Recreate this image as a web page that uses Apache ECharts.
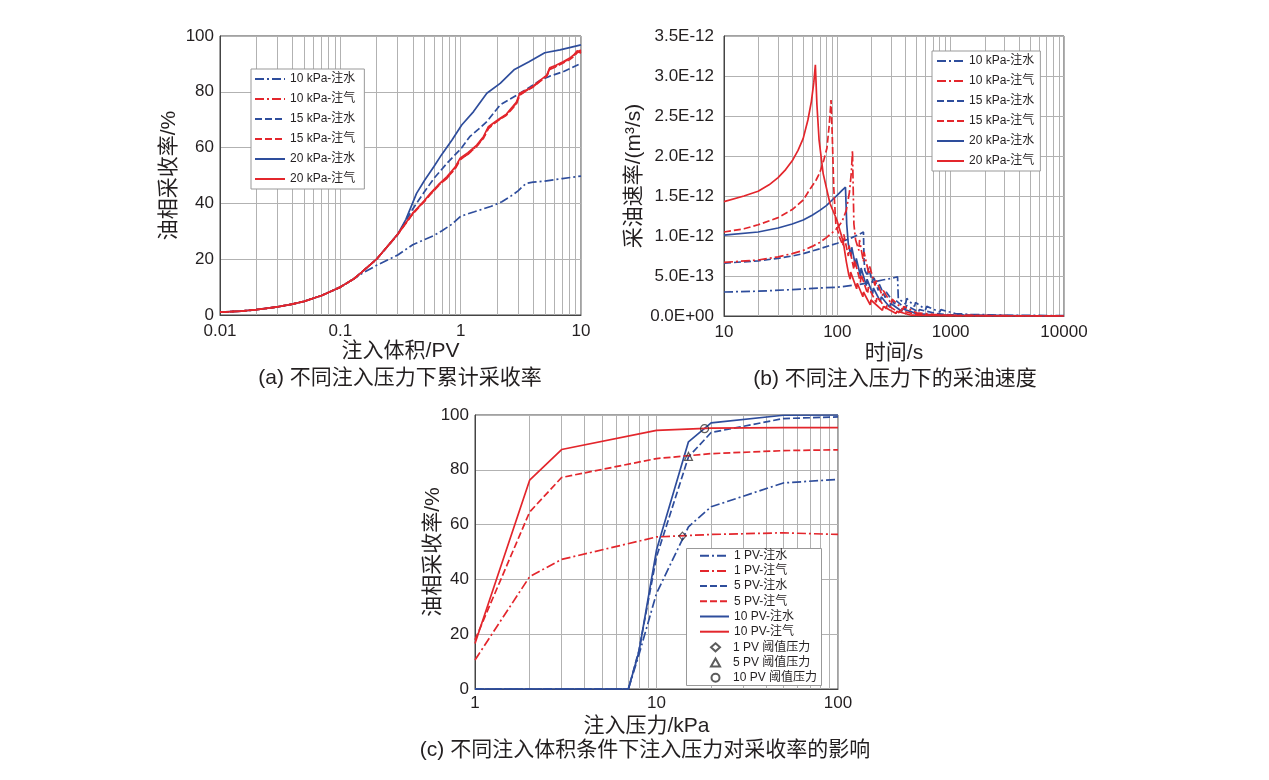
<!DOCTYPE html>
<html>
<head>
<meta charset="utf-8">
<title>注入压力与采收率</title>
<script src="https://cdn.jsdelivr.net/npm/echarts@6/dist/echarts.min.js"></script>
<style>
    html, body { margin: 0; padding: 0; background: #fff; }
    #main { width: 1269px; height: 780px; }
</style>
</head>
<body>
<div id="main"></div>
<script>
    // ---- (a) 累计采收率 vs 注入体积 (PV, %) ----
    var aStart = [[0.01, 1.0], [0.015, 1.4], [0.02, 1.9], [0.03, 2.9], [0.04, 3.9], [0.05, 4.9], [0.07, 7.0], [0.1, 10.0], [0.13, 13.0]];
    var aWater10 = [[0.15, 14.8], [0.2, 17.8], [0.3, 21.5], [0.4, 25.2], [0.5, 27.0], [0.6, 28.5], [0.7, 30.2], [0.85, 32.6], [1.0, 35.4], [1.3, 37.0], [1.8, 39.0], [2.2, 40.6], [2.7, 43.0], [3.0, 44.5], [3.5, 47.2], [4.0, 47.6], [5.0, 48.0], [7.0, 48.9], [10, 49.8]];
    var aWater15 = [[0.15, 15.3], [0.2, 20.0], [0.3, 28.8], [0.4, 38.0], [0.49, 43.6], [0.6, 49.0], [0.77, 54.4], [1.0, 59.5], [1.19, 63.9], [1.4, 66.5], [1.65, 69.3], [2.13, 75.3], [2.95, 78.9], [3.8, 81.8], [4.6, 84.2], [5.5, 85.6], [7.1, 87.2], [10, 90.2]];
    var aWater20 = [[0.15, 15.3], [0.2, 20.0], [0.3, 29.0], [0.35, 34.2], [0.43, 43.6], [0.5, 48.2], [0.6, 53.2], [0.69, 57.3], [0.85, 62.8], [1.02, 68.1], [1.28, 72.9], [1.65, 79.5], [2.13, 83.0], [2.8, 88.0], [3.7, 90.8], [5.0, 94.0], [6.7, 95.0], [10, 96.8]];
    var aGas10 = [[0.15, 15.3], [0.2, 20.0], [0.3, 28.9], [0.4, 36.4], [0.5, 40.9], [0.56, 43.4], [0.65, 46.4], [0.77, 49.0], [0.9, 52.7], [0.99, 55.9], [1.15, 57.6], [1.36, 60.6], [1.55, 63.7], [1.7, 67.1], [1.9, 68.8], [2.13, 70.3], [2.4, 71.8], [2.63, 73.8], [2.9, 75.9], [3.1, 79.1], [3.5, 80.4], [4.0, 81.8], [4.6, 84.0], [5.2, 85.8], [5.5, 88.3], [6.2, 89.2], [7.1, 90.6], [8.0, 91.7], [8.7, 92.9], [9.3, 94.3], [10, 95.0]];
    var aGas15 = [[0.15, 15.3], [0.2, 20.0], [0.3, 28.9], [0.4, 36.2], [0.5, 40.7], [0.56, 43.2], [0.65, 46.2], [0.77, 49.2], [0.9, 52.4], [0.99, 55.6], [1.15, 57.8], [1.36, 60.4], [1.55, 63.4], [1.7, 66.8], [1.9, 68.6], [2.13, 70.2], [2.4, 71.6], [2.63, 73.5], [2.9, 75.6], [3.1, 78.8], [3.5, 80.3], [4.0, 81.7], [4.6, 83.8], [5.2, 85.6], [5.5, 88.0], [6.2, 89.0], [7.1, 90.3], [8.0, 91.5], [8.7, 92.6], [9.3, 94.0], [10, 94.6]];
    var aGas20 = [[0.15, 15.3], [0.2, 20.0], [0.3, 29.0], [0.4, 36.5], [0.5, 41.0], [0.56, 43.6], [0.65, 46.6], [0.77, 49.6], [0.9, 53.0], [0.99, 56.2], [1.15, 58.2], [1.36, 60.9], [1.55, 64.0], [1.7, 67.5], [1.9, 69.0], [2.13, 70.5], [2.4, 72.0], [2.63, 74.1], [2.9, 76.2], [3.1, 79.5], [3.5, 80.6], [4.0, 82.0], [4.6, 84.2], [5.2, 86.0], [5.5, 88.6], [6.2, 89.5], [7.1, 90.8], [8.0, 92.0], [8.7, 93.2], [9.3, 94.7], [10, 93.8]];

    // ---- (b) 采油速率 vs 时间 (s, 单位 1E-12 m3/s) ----
    var bWater10 = [[10, 0.30], [20, 0.31], [40, 0.33], [70, 0.35], [100, 0.36], [150, 0.39], [200, 0.42], [250, 0.45], [300, 0.47], [340, 0.49], [345, 0.22], [400, 0.15], [410, 0.22], [480, 0.12], [490, 0.17], [600, 0.08], [615, 0.12], [800, 0.05], [820, 0.08], [1100, 0.03], [1500, 0.02], [3000, 0.01], [10000, 0.005]];
    var bGas10 = [[10, 0.67], [20, 0.70], [30, 0.74], [40, 0.78], [50, 0.82], [60, 0.87], [70, 0.92], [80, 0.98], [90, 1.04], [100, 1.10], [110, 1.18], [120, 1.32], [128, 1.55], [133, 1.80], [136, 2.07], [138, 1.60], [140, 1.15], [145, 0.95], [155, 0.82], [157, 0.95], [170, 0.68], [172, 0.80], [190, 0.52], [193, 0.62], [215, 0.38], [218, 0.46], [250, 0.25], [254, 0.32], [300, 0.15], [305, 0.21], [380, 0.08], [385, 0.12], [500, 0.04], [510, 0.06], [700, 0.02], [1000, 0.01], [2000, 0.005], [10000, 0]];
    var bWater15 = [[10, 0.66], [20, 0.69], [30, 0.72], [40, 0.75], [50, 0.78], [70, 0.84], [100, 0.91], [130, 0.97], [155, 1.02], [170, 1.05], [172, 0.70], [175, 0.57], [185, 0.50], [188, 0.60], [205, 0.42], [208, 0.50], [230, 0.32], [234, 0.40], [265, 0.23], [270, 0.30], [320, 0.15], [326, 0.20], [400, 0.09], [408, 0.13], [520, 0.05], [530, 0.08], [750, 0.03], [1000, 0.015], [2000, 0.005], [10000, 0]];
    var bGas15 = [[10, 1.05], [15, 1.09], [20, 1.14], [30, 1.23], [40, 1.33], [50, 1.45], [57, 1.58], [65, 1.70], [70, 1.79], [76, 1.95], [81, 2.10], [85, 2.40], [88, 2.70], [90, 2.30], [93, 1.60], [97, 1.15], [105, 0.98], [112, 0.88], [114, 1.02], [125, 0.75], [127, 0.88], [140, 0.58], [142, 0.70], [160, 0.42], [162, 0.52], [185, 0.28], [188, 0.36], [220, 0.17], [224, 0.24], [270, 0.09], [275, 0.14], [350, 0.04], [355, 0.07], [500, 0.02], [700, 0.01], [1000, 0.005], [10000, 0]];
    var bWater20 = [[10, 1.01], [20, 1.05], [30, 1.10], [40, 1.15], [50, 1.20], [60, 1.26], [70, 1.32], [80, 1.38], [90, 1.45], [100, 1.51], [110, 1.57], [118, 1.61], [121, 1.15], [125, 0.90], [132, 0.75], [134, 0.86], [145, 0.62], [147, 0.72], [160, 0.50], [162, 0.60], [180, 0.38], [183, 0.46], [205, 0.28], [208, 0.35], [240, 0.18], [244, 0.24], [290, 0.11], [295, 0.16], [370, 0.06], [375, 0.09], [500, 0.03], [700, 0.015], [1000, 0.01], [10000, 0]];
    var bGas20 = [[10, 1.43], [15, 1.50], [20, 1.56], [25, 1.64], [30, 1.73], [35, 1.83], [40, 1.94], [45, 2.07], [50, 2.22], [55, 2.45], [59, 2.68], [62, 2.92], [64, 3.14], [66, 2.65], [69, 2.20], [75, 1.78], [86, 1.41], [99, 1.20], [108, 1.02], [113, 0.92], [120, 0.68], [126, 0.52], [130, 0.46], [131, 0.55], [148, 0.34], [150, 0.41], [168, 0.24], [170, 0.30], [195, 0.14], [198, 0.20], [250, 0.07], [255, 0.12], [330, 0.03], [335, 0.06], [450, 0.01], [1000, 0.005], [10000, 0]];

    // ---- (c) 采收率 vs 注入压力 (kPa, %) ----
    var cGasX = [1, 2, 3, 10, 20, 50, 100];
    var cGas1 = [10.6, 41.0, 47.3, 55.5, 56.4, 57.0, 56.4];
    var cGas5 = [17.9, 64.6, 77.2, 84.1, 85.9, 87.0, 87.3];
    var cGas10 = [16.6, 76.2, 87.4, 94.4, 95.2, 95.4, 95.4];
    var cWaterX = [1, 7, 8, 10, 15, 20, 50, 100];
    var cWater1 = [0, 0, 12.5, 34.9, 59.2, 66.5, 75.2, 76.5];
    var cWater5 = [0, 0, 14.0, 48.2, 84.7, 93.6, 98.7, 99.3];
    var cWater10 = [0, 0, 13.6, 50.7, 90.2, 97.1, 99.9, 100];
    var cThr1 = [[13.9, 55.8]];
    var cThr5 = [[15.0, 84.9]];
    var cThr10 = [[18.4, 95.0]];

    var namesAB = ['10 kPa-注水', '10 kPa-注气', '15 kPa-注水', '15 kPa-注气', '20 kPa-注水', '20 kPa-注气'];
    var namesC = ['1 PV-注水', '1 PV-注气', '5 PV-注水', '5 PV-注气', '10 PV-注水', '10 PV-注气'];
    var namesThr = ['1 PV 阈值压力', '5 PV 阈值压力', '10 PV 阈值压力'];

    var BLUE = '#2e4d9c', RED = '#e3262c', TXT = '#231f20', GRID = '#b2b2b2', AXIS = '#444';
    var DASH = [7, 3], DASHDOT = [9, 3, 2, 3];
    var FONT = '"Liberation Sans", "Noto Sans CJK SC", sans-serif';

    function zip(xs, ys) {
        return xs.map(function (x, i) { return [x, ys[i]]; });
    }

    function line(name, data, color, dash, idx) {
        return {
            type: 'line', name: name, data: data, xAxisIndex: idx, yAxisIndex: idx,
            symbol: 'none', showSymbol: false, z: 2,
            lineStyle: { color: color, width: 1.7, type: dash },
            itemStyle: { color: color }
        };
    }

    function marker(name, data, symbol, size) {
        return {
            type: 'scatter', name: name, data: data, xAxisIndex: 2, yAxisIndex: 2,
            symbol: symbol, symbolSize: size, z: 4,
            itemStyle: { color: 'rgba(255,255,255,0)', borderColor: '#333', borderWidth: 1.2 }
        };
    }

    // minor vertical grid lines of the log axes (2..9 of each decade)
    function minorGrid(idx, eLo, eHi) {
        var lines = [];
        for (var e = eLo; e < eHi; e++) {
            for (var k = 2; k <= 9; k++) {
                lines.push({ xAxis: k * Math.pow(10, e) });
            }
        }
        return {
            type: 'line', data: [], xAxisIndex: idx, yAxisIndex: idx, silent: true, z: 1,
            markLine: {
                silent: true, z: 1, animation: false, symbol: ['none', 'none'],
                label: { show: false },
                lineStyle: { color: GRID, type: 'solid', width: 1 },
                data: lines
            }
        };
    }

    function logLabel(v) { return String(+v.toPrecision(6)); }

    function xAxis(idx, min, max, name, gap, margin, namePad) {
        return {
            type: 'log', logBase: 10, gridIndex: idx, min: min, max: max,
            name: name, nameLocation: 'middle', nameGap: gap, nameMoveOverlap: false,
            nameTextStyle: { fontSize: 21, color: TXT, padding: namePad || 0 },
            axisLine: { show: true, lineStyle: { color: AXIS, width: 1 } },
            axisTick: { show: false },
            axisLabel: { fontSize: 17, color: TXT, margin: margin, formatter: logLabel },
            splitLine: { show: true, lineStyle: { color: GRID, width: 1 } }
        };
    }

    function yAxis(idx, max, interval, name, gap, margin, fmt) {
        return {
            type: 'value', gridIndex: idx, min: 0, max: max, interval: interval,
            name: name, nameLocation: 'middle', nameGap: gap, nameMoveOverlap: false,
            nameTextStyle: { fontSize: 21, color: TXT },
            axisLine: { show: true, lineStyle: { color: AXIS, width: 1 } },
            axisTick: { show: false },
            axisLabel: { fontSize: 17, color: TXT, margin: margin, formatter: fmt },
            splitLine: { show: true, lineStyle: { color: GRID, width: 1 } }
        };
    }

    function rateLabel(v) {
        var s = (v * 1e-12).toExponential(1).toUpperCase();
        return s.replace(/E([+-])(\d)$/, function (m, sg, d) { return 'E' + sg + '0' + d; });
    }

    // line legends: hide the default circle that ECharts puts on a line icon
    function legend(names, left, top, iw, ih, gap, pad, boxed) {
        return {
            data: names, orient: 'vertical', left: left, top: top, selectedMode: false,
            itemWidth: iw, itemHeight: ih, itemGap: gap, padding: pad,
            backgroundColor: boxed ? '#fff' : 'transparent',
            borderColor: '#999', borderWidth: boxed ? 1 : 0, borderRadius: 0,
            itemStyle: { opacity: 0 },
            textStyle: { fontSize: 12, color: TXT }
        };
    }

    function caption(text, x, y) {
        return {
            type: 'text', x: x, y: y, z: 10,
            style: { text: text, fill: TXT, font: '21px ' + FONT, textAlign: 'center', textVerticalAlign: 'middle', verticalAlign: 'middle' }
        };
    }

    var chart = echarts.init(document.getElementById('main'));

    var markerLegend = {
        data: namesThr, orient: 'vertical', left: 686, top: 641.3, selectedMode: false,
        itemWidth: 9, itemHeight: 8, itemGap: 3.2, padding: [0, 3, 0, 24],
        backgroundColor: 'transparent', borderWidth: 0,
        textStyle: { fontSize: 12, color: TXT, padding: [0, 0, 0, 8] }
    };

    var option = {
        animation: false,
        backgroundColor: '#fff',
        textStyle: { fontFamily: FONT },
        grid: [
            { left: 220, top: 36, width: 361, height: 279, show: true, borderColor: AXIS, borderWidth: 1, outerBoundsMode: 'none' },
            { left: 724, top: 36, width: 340, height: 280, show: true, borderColor: AXIS, borderWidth: 1, outerBoundsMode: 'none' },
            { left: 475, top: 415, width: 363, height: 274, show: true, borderColor: AXIS, borderWidth: 1, outerBoundsMode: 'none' }
        ],
        xAxis: [
            xAxis(0, 0.01, 10, '注入体积/PV', 26, 8),
            xAxis(1, 10, 10000, '时间/s', 27, 8),
            xAxis(2, 1, 100, '注入压力/kPa', 27, 6, [0, 20, 0, 0])
        ],
        yAxis: [
            yAxis(0, 100, 20, '油相采收率/%', 40, 6),
            yAxis(1, 3.5, 0.5, '采油速率/(m³/s)', 79, 10, rateLabel),
            yAxis(2, 100, 20, '油相采收率/%', 31, 6)
        ],
        legend: [
            legend(namesAB, 251, 69, 30, 12, 8, [4, 9, 4, 3], true),
            legend(namesAB, 932, 51, 27, 12, 8, [4, 6, 4, 4], true),
            legend(namesC, 686, 548, 29, 12, 3.2, [1.7, 3, 1.7, 13], false),
            markerLegend
        ],
        graphic: [
            {
                type: 'rect', z: 3,
                shape: { x: 686.5, y: 548.5, width: 135, height: 137 },
                style: { fill: '#fff', stroke: '#999', lineWidth: 1 }
            },
            caption('(a) 不同注入压力下累计采收率', 400, 378),
            caption('(b) 不同注入压力下的采油速度', 895, 379),
            caption('(c) 不同注入体积条件下注入压力对采收率的影响', 645, 750)
        ],
        series: [
            minorGrid(0, -2, 1),
            minorGrid(1, 1, 4),
            minorGrid(2, 0, 2),

            line('10 kPa-注水', aStart.concat(aWater10), BLUE, DASHDOT, 0),
            line('15 kPa-注水', aStart.concat(aWater15), BLUE, DASH, 0),
            line('20 kPa-注水', aStart.concat(aWater20), BLUE, 'solid', 0),
            line('10 kPa-注气', aStart.concat(aGas10), RED, DASHDOT, 0),
            line('15 kPa-注气', aStart.concat(aGas15), RED, DASH, 0),
            line('20 kPa-注气', aStart.concat(aGas20), RED, 'solid', 0),

            line('10 kPa-注水', bWater10, BLUE, DASHDOT, 1),
            line('15 kPa-注水', bWater15, BLUE, DASH, 1),
            line('20 kPa-注水', bWater20, BLUE, 'solid', 1),
            line('10 kPa-注气', bGas10, RED, DASHDOT, 1),
            line('15 kPa-注气', bGas15, RED, DASH, 1),
            line('20 kPa-注气', bGas20, RED, 'solid', 1),

            line('1 PV-注水', zip(cWaterX, cWater1), BLUE, DASHDOT, 2),
            line('5 PV-注水', zip(cWaterX, cWater5), BLUE, DASH, 2),
            line('10 PV-注水', zip(cWaterX, cWater10), BLUE, 'solid', 2),
            line('1 PV-注气', zip(cGasX, cGas1), RED, DASHDOT, 2),
            line('5 PV-注气', zip(cGasX, cGas5), RED, DASH, 2),
            line('10 PV-注气', zip(cGasX, cGas10), RED, 'solid', 2),

            marker('1 PV 阈值压力', cThr1, 'diamond', [7, 8]),
            marker('5 PV 阈值压力', cThr5, 'triangle', 8),
            marker('10 PV 阈值压力', cThr10, 'circle', 8)
        ]
    };

    chart.setOption(option);
</script>
</body>
</html>
